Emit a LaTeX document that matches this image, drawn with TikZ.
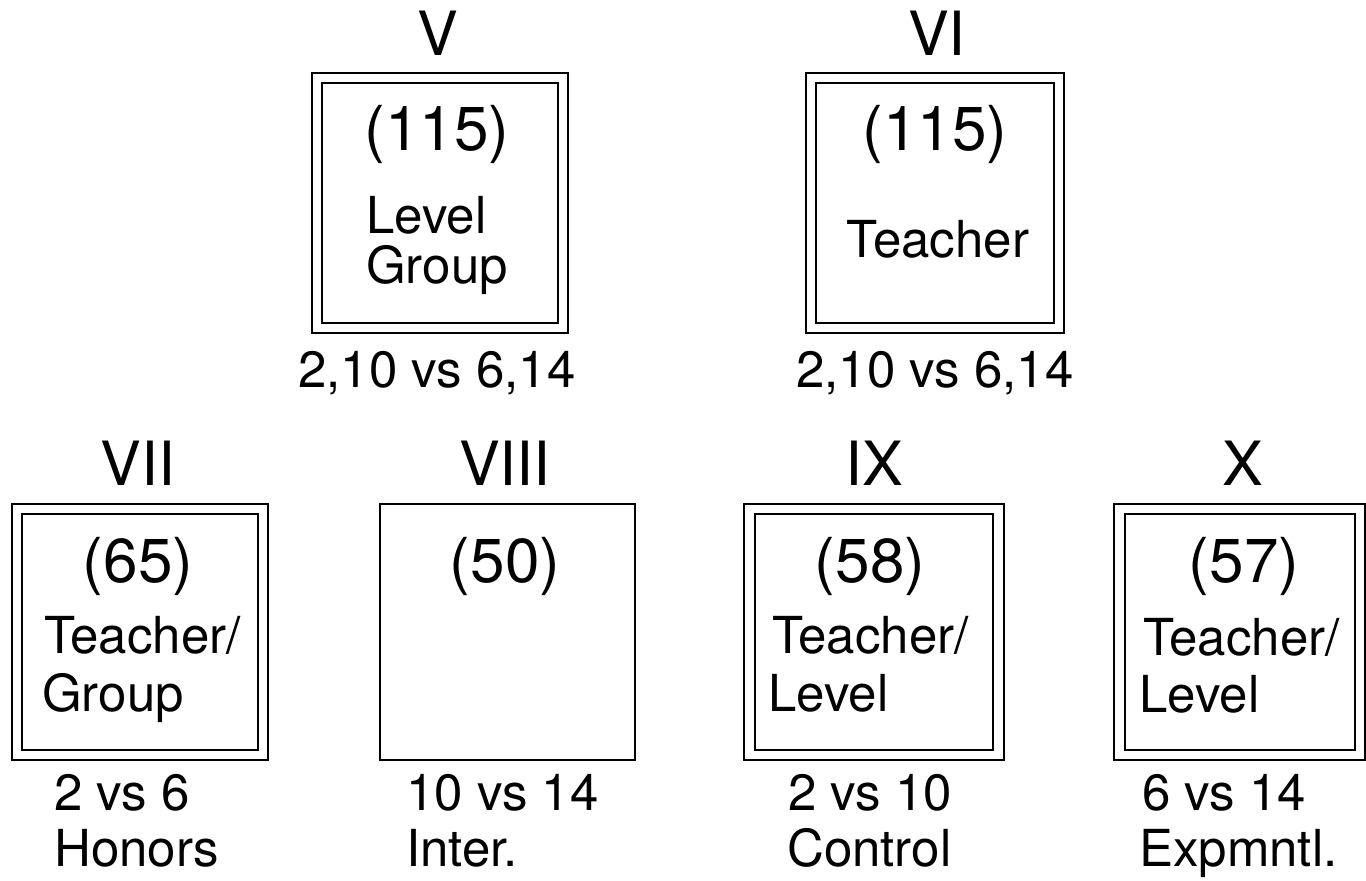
\documentclass[tikz,border=0pt]{standalone}
\usepackage{fontspec}
\setmainfont{TeX Gyre Heros}
\begin{document}
\begin{tikzpicture}[x=1pt,y=-1pt,
  outerbox/.style={draw, line width=2pt, inner sep=0pt, minimum width=#1, minimum height=256pt},
  innerbox/.style={draw, line width=2pt, inner sep=0pt, minimum width=#1, minimum height=236pt},
  roman/.style={font=\fontsize{61}{61}\selectfont, inner sep=0pt, anchor=base},
  count/.style={font=\fontsize{62}{62}\selectfont, inner sep=0pt, anchor=base},
  bodyc/.style={font=\fontsize{51}{57}\selectfont, inner sep=0pt, anchor=base},
  bodyl/.style={font=\fontsize{51}{57}\selectfont, inner sep=0pt, anchor=base west}]
\useasboundingbox (0,0) rectangle (1366,881);

% ---- top row: V ----
\node[outerbox=256pt, minimum height=260pt] (o5) at (440,202.5) {};
\node[innerbox=236pt, minimum height=240pt] (i5) at (440,203) {};
\node[roman] (l5) at (438,55) {V};
\node[count] (c5) at (437,150) {(115)};
\node[bodyl] (t5a) at (366,233) {Level};
\node[bodyl] (t5b) at (366,283) {Group};
\node[bodyc] (s5) at (437,387) {2,10 vs 6,14};

% ---- top row: VI ----
\node[outerbox=258pt, minimum height=260pt] (o6) at (935,203) {};
\node[innerbox=238pt, minimum height=240pt] (i6) at (935,203) {};
\node[roman] (l6) at (937,55) {VI};
\node[count] (c6) at (935,150) {(115)};
\node[bodyc] (t6) at (938,257) {Teacher};
\node[bodyc] (s6) at (935,387) {2,10 vs 6,14};

% ---- bottom row: VII ----
\node[outerbox=256pt] (o7) at (140,632) {};
\node[innerbox=236pt] (i7) at (139.5,631.5) {};
\node[roman] (l7) at (138,485) {VII};
\node[count] (c7) at (138,582) {(65)};
\node[bodyl] (t7a) at (44,653) {Teacher/};
\node[bodyl] (t7b) at (42,711) {Group};
\node[bodyl] (s7a) at (54,810) {2 vs 6};
\node[bodyl] (s7b) at (54,866) {Honors};

% ---- bottom row: VIII ----
\node[outerbox=255pt] (o8) at (507.5,632) {};
\node[roman] (l8) at (505,485) {VIII};
\node[count] (c8) at (505,582) {(50)};
\node[bodyl] (s8a) at (406,810) {10 vs 14};
\node[bodyl] (s8b) at (406,866) {Inter.};

% ---- bottom row: IX ----
\node[outerbox=260pt] (o9) at (873.5,632) {};
\node[innerbox=238pt] (i9) at (874,631.5) {};
\node[roman] (l9) at (874,485) {IX};
\node[count] (c9) at (870,582) {(58)};
\node[bodyl] (t9a) at (772,653) {Teacher/};
\node[bodyl] (t9b) at (768,711) {Level};
\node[bodyl] (s9a) at (788,810) {2 vs 10};
\node[bodyl] (s9b) at (787,866) {Control};

% ---- bottom row: X ----
\node[outerbox=251pt] (o10) at (1239.5,632) {};
\node[innerbox=230pt] (i10) at (1240,631.5) {};
\node[roman] (l10) at (1243,485) {X};
\node[count] (c10) at (1244,582) {(57)};
\node[bodyl] (t10a) at (1143,655) {Teacher/};
\node[bodyl] (t10b) at (1139,712) {Level};
\node[bodyl] (s10a) at (1142,810) {6 vs 14};
\node[bodyl] (s10b) at (1139,866) {Expmntl.};
\end{tikzpicture}
\end{document}
